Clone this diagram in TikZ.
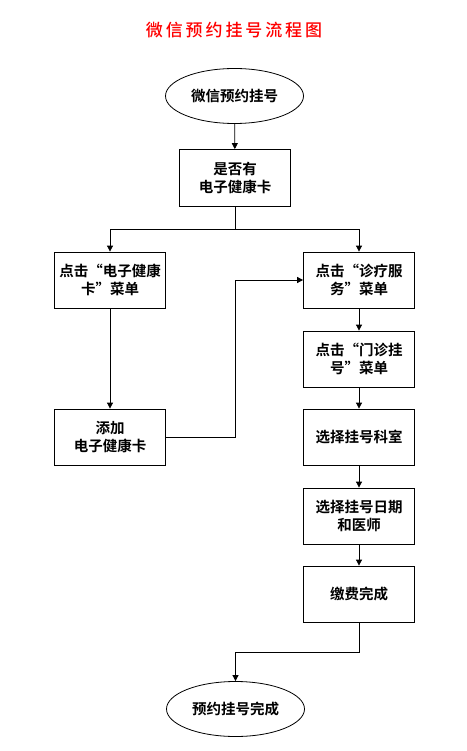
\documentclass[tikz,border=0pt]{standalone}
\usepackage{fontspec}
\setmainfont{Noto Sans CJK SC}[BoldFont={Noto Sans CJK SC Bold}]
\newfontfamily\titlefont{Noto Sans CJK SC Medium}[LetterSpace=17]
\usetikzlibrary{shapes.geometric,arrows.meta}
\begin{document}
\begin{tikzpicture}[x=1pt,y=-1pt,
  every node/.style={font=\bfseries\fontsize{14.5}{18}\selectfont, align=center, inner sep=0pt},
  stepbox/.style={draw, line width=0.8pt, rectangle, minimum width=111pt, minimum height=56pt},
  term/.style={draw, line width=0.8pt, ellipse, minimum width=138pt, minimum height=55pt},
  conn/.style={line width=0.8pt, -{Triangle[length=6pt,width=6pt]}}]
\useasboundingbox (0,0) rectangle (466,751);
\node[font=\titlefont\fontsize{17}{20}\selectfont, text=red] (title) at (234,30) {微信预约挂号流程图};
\node[term] (start) at (234.5,96) {微信预约挂号};
\node[stepbox, minimum height=57pt] (q) at (235,178) {是否有\\电子健康卡};
\node[stepbox] (l1) at (110,280) {点击“电子健康\\卡”菜单};
\node[stepbox] (l2) at (110,437) {添加\\电子健康卡};
\node[stepbox] (r1) at (359,280) {点击“诊疗服\\务”菜单};
\node[stepbox] (r2) at (359,359) {点击“门诊挂\\号”菜单};
\node[stepbox] (r3) at (359,437) {选择挂号科室};
\node[stepbox] (r4) at (359,516) {选择挂号日期\\和医师};
\node[stepbox] (r5) at (359,594) {缴费完成};
\node[term] (end) at (235.5,709) {预约挂号完成};
\coordinate (split) at (235,229);
\coordinate (join) at (235.5,652);
\draw[conn] (start) -- (q);
\draw[conn] (q.south) -- (split) -| (l1.north);
\draw[conn] (split) -| (r1.north);
\draw[conn] (l1) -- (l2);
\draw[conn] (l2.east) -- ++(69,0) |- (r1.west);
\draw[conn] (r1) -- (r2);
\draw[conn] (r2) -- (r3);
\draw[conn] (r3) -- (r4);
\draw[conn] (r4) -- (r5);
\draw[conn] (r5.south) |- (join) -- (end.north);
\end{tikzpicture}
\end{document}
